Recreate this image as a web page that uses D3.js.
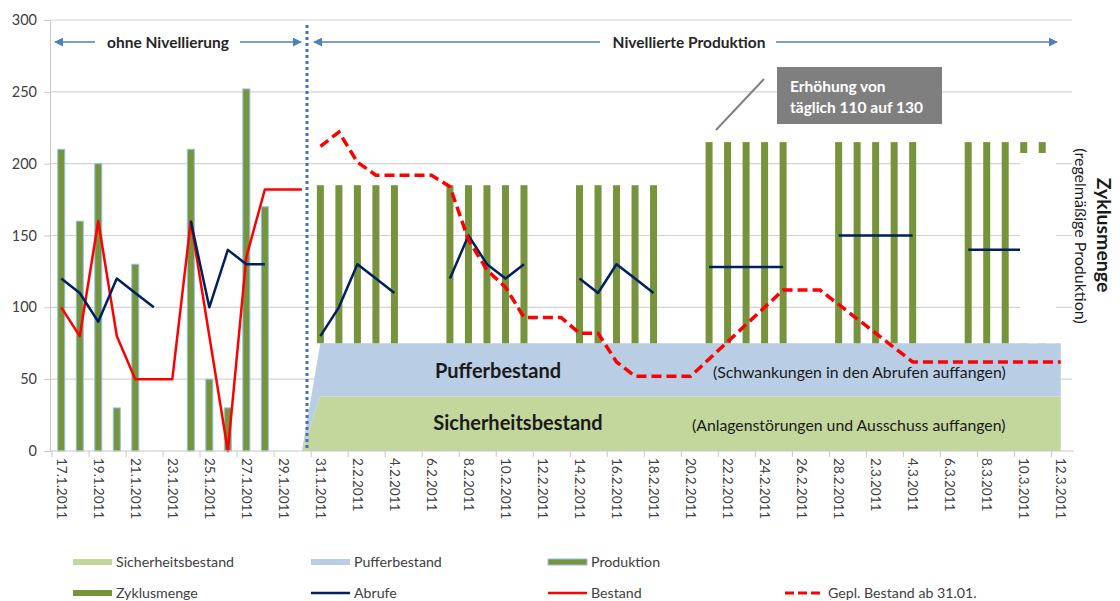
<!DOCTYPE html>
<html>
<head>
<meta charset="utf-8">
<script src="https://cdn.jsdelivr.net/npm/d3@7"></script>
<style>
  body { margin: 0; background: #fff; }
  svg { display: block; font-family: Lato, "Open Sans", sans-serif; }
</style>
</head>
<body>
<div id="chart"></div>
<script>
// Kategorien (Tage)
var dates = ["17.1.2011","18.1.2011","19.1.2011","20.1.2011","21.1.2011","22.1.2011","23.1.2011","24.1.2011",
  "25.1.2011","26.1.2011","27.1.2011","28.1.2011","29.1.2011","30.1.2011","31.1.2011",
  "1.2.2011","2.2.2011","3.2.2011","4.2.2011","5.2.2011","6.2.2011","7.2.2011","8.2.2011","9.2.2011",
  "10.2.2011","11.2.2011","12.2.2011","13.2.2011","14.2.2011","15.2.2011","16.2.2011","17.2.2011",
  "18.2.2011","19.2.2011","20.2.2011","21.2.2011","22.2.2011","23.2.2011","24.2.2011","25.2.2011",
  "26.2.2011","27.2.2011","28.2.2011",
  "1.3.2011","2.3.2011","3.3.2011","4.3.2011","5.3.2011","6.3.2011","7.3.2011","8.3.2011","9.3.2011",
  "10.3.2011","11.3.2011","12.3.2011"];

var yTicks = [0, 50, 100, 150, 200, 250, 300];

// Serien (null = kein Wert)
var produktion = [210,160,200,30,130,null,null,210,50,30,252,170,null,null];

var zyklusmenge = [null,null,null,null,null,null,null,null,null,null,null,null,null,null,
  185,185,185,185,185,null,null,185,185,185,185,185,null,null,185,185,185,185,185,null,null,
  215,215,215,215,215,null,null,215,215,215,215,215,null,null,215,215,215,215,215,null];

var abrufe = [120,110,90,120,110,100,null,160,100,140,130,130,null,null,
  80,100,130,120,110,null,null,120,150,130,120,130,null,null,120,110,130,120,110,null,null,
  128,128,128,128,128,null,null,150,150,150,150,150,null,null,140,140,140,140,140,null];

var bestand = [100,80,160,80,50,50,50,160,80,0,135,182,182,182];

var geplBestand = [null,null,null,null,null,null,null,null,null,null,null,null,null,null,
  212,222,201,192,192,192,192,184,147,126,114,93,93,93,82,82,62,52,52,52,52,
  64,76,88,100,112,112,112,102,92,82,72,62,62,62,62,62,62,62,62,62];

var sicherheitsbestand = [null,null,null,null,null,null,null,null,null,null,null,null,null,0,
  38,38,38,38,38,38,38,38,38,38,38,38,38,38,38,38,38,38,38,38,38,
  38,38,38,38,38,38,38,38,38,38,38,38,38,38,38,38,38,38,38,38];

var pufferbestand = [null,null,null,null,null,null,null,null,null,null,null,null,null,0,
  37,37,37,37,37,37,37,37,37,37,37,37,37,37,37,37,37,37,37,37,37,
  37,37,37,37,37,37,37,37,37,37,37,37,37,37,37,37,37,37,37,37];

var width = 1120, height = 601;

var svg = d3.select("#chart").append("svg")
  .attr("width", width)
  .attr("height", height);

var x = d3.scaleBand().domain(d3.range(dates.length)).range([52, 1070]).padding(0);
var y = d3.scaleLinear().domain([0, 300]).range([451, 20]);
var cx = function(i) { return x(i) + x.bandwidth() / 2; };
var barW = 7;

// Gitterlinien
svg.append("g").selectAll("line")
  .data(yTicks.slice(1))
  .enter().append("line")
  .attr("x1", 50).attr("x2", 1072)
  .attr("y1", function(d) { return y(d); })
  .attr("y2", function(d) { return y(d); })
  .attr("stroke", "#d4d4d4").attr("stroke-width", 1.2);

// Y-Achse
var yAxis = svg.append("g")
  .attr("transform", "translate(50,0)")
  .call(d3.axisLeft(y).tickValues(yTicks).tickSize(6).tickPadding(7));
yAxis.select(".domain").attr("stroke", "#c8c8c8");
yAxis.selectAll(".tick line").attr("stroke", "#c8c8c8");
yAxis.selectAll("text").attr("font-size", 14.5).attr("fill", "#404040")
  .attr("font-family", "Lato, 'Open Sans', sans-serif");

// Flächen (gestapelt)
var areaSich = d3.area()
  .defined(function(d, i) { return sicherheitsbestand[i] != null; })
  .x(function(d, i) { return cx(i); })
  .y0(y(0))
  .y1(function(d, i) { return y(sicherheitsbestand[i]); });
var areaPuf = d3.area()
  .defined(function(d, i) { return pufferbestand[i] != null; })
  .x(function(d, i) { return cx(i); })
  .y0(function(d, i) { return y(sicherheitsbestand[i]); })
  .y1(function(d, i) { return y(sicherheitsbestand[i] + pufferbestand[i]); });

svg.append("path").attr("d", areaPuf(dates)).attr("fill", "#b9cde5");
svg.append("path").attr("d", areaSich(dates)).attr("fill", "#c3d69b");

// Produktion (Balken mit hellblauem Rand)
svg.append("g").selectAll("rect")
  .data(produktion.map(function(v, i) { return {v: v, i: i}; }).filter(function(d) { return d.v != null; }))
  .enter().append("rect")
  .attr("x", function(d) { return cx(d.i) - barW / 2; })
  .attr("width", barW)
  .attr("y", function(d) { return y(d.v); })
  .attr("height", function(d) { return y(0) - y(d.v); })
  .attr("fill", "#77933c")
  .attr("stroke", "#8fc3e6").attr("stroke-width", 1);

// Zyklusmenge (Balken oberhalb des Puffers)
svg.append("g").selectAll("rect")
  .data(zyklusmenge.map(function(v, i) { return {v: v, i: i}; }).filter(function(d) { return d.v != null; }))
  .enter().append("rect")
  .attr("x", function(d) { return cx(d.i) - barW / 2; })
  .attr("width", barW)
  .attr("y", function(d) { return y(d.v); })
  .attr("height", function(d) { return y(sicherheitsbestand[d.i] + pufferbestand[d.i]) - y(d.v); })
  .attr("fill", "#77933c");

// Linien
function lineFor(arr) {
  return d3.line()
    .defined(function(d, i) { return arr[i] != null; })
    .x(function(d, i) { return cx(i); })
    .y(function(d, i) { return y(arr[i]); });
}

svg.append("path").attr("d", lineFor(bestand)(bestand))
  .attr("fill", "none").attr("stroke", "#ff0000").attr("stroke-width", 2.5)
  .attr("stroke-linejoin", "round");

svg.append("path").attr("d", lineFor(abrufe)(abrufe))
  .attr("fill", "none").attr("stroke", "#002060").attr("stroke-width", 2.5)
  .attr("stroke-linejoin", "round");

svg.append("path").attr("d", lineFor(geplBestand)(geplBestand))
  .attr("fill", "none").attr("stroke", "#ff0000").attr("stroke-width", 3.5)
  .attr("stroke-dasharray", "10,5");

// X-Achse
svg.append("line").attr("x1", 50).attr("x2", 1074).attr("y1", y(0)).attr("y2", y(0))
  .attr("stroke", "#c8c8c8").attr("stroke-width", 1.2);
var tickIdx = d3.range(0, dates.length, 2);
svg.append("g").selectAll("line")
  .data(tickIdx)
  .enter().append("line")
  .attr("x1", function(i) { return x(i); }).attr("x2", function(i) { return x(i); })
  .attr("y1", y(0)).attr("y2", y(0) + 6)
  .attr("stroke", "#c8c8c8");
svg.append("g").selectAll("text")
  .data(tickIdx)
  .enter().append("text")
  .attr("transform", function(i) { return "translate(" + cx(i) + "," + (y(0) + 7) + ") rotate(90)"; })
  .attr("dy", "0.35em")
  .attr("font-size", 13.5)
  .attr("fill", "#404040")
  .text(function(i) { return dates[i]; });

// Trennlinie (gepunktet)
svg.append("line").attr("x1", 307).attr("x2", 307).attr("y1", 25).attr("y2", y(0))
  .attr("stroke", "#3f72c0").attr("stroke-width", 3).attr("stroke-dasharray", "3,3");

// Pfeile oben
var defs = svg.append("defs");
defs.append("marker").attr("id", "arr")
  .attr("viewBox", "0 0 10 10").attr("refX", 9).attr("refY", 5)
  .attr("markerWidth", 9).attr("markerHeight", 9)
  .attr("markerUnits", "userSpaceOnUse")
  .attr("orient", "auto-start-reverse")
  .append("path").attr("d", "M0,0 L10,5 L0,10 z").attr("fill", "#4f81bd");

var arrows = [[55, 95, "start"], [240, 301, "end"], [314, 600, "start"], [776, 1057, "end"]];
arrows.forEach(function(a) {
  var l = svg.append("line").attr("x1", a[0]).attr("x2", a[1]).attr("y1", 42).attr("y2", 42)
    .attr("stroke", "#4f81bd").attr("stroke-width", 1.5);
  l.attr(a[2] === "start" ? "marker-start" : "marker-end", "url(#arr)");
});
svg.append("text").attr("x", 168).attr("y", 48).attr("text-anchor", "middle")
  .attr("font-size", 15.5).attr("font-weight", "bold").attr("fill", "#262626")
  .text("ohne Nivellierung");
svg.append("text").attr("x", 689).attr("y", 48).attr("text-anchor", "middle")
  .attr("font-size", 15.5).attr("font-weight", "bold").attr("fill", "#262626")
  .text("Nivellierte Produktion");

// Beschriftungen in den Flächen
svg.append("text").attr("x", 498).attr("y", 378).attr("text-anchor", "middle")
  .attr("font-size", 20).attr("font-weight", "bold").attr("fill", "#1a1a1a").text("Pufferbestand");
svg.append("text").attr("x", 518).attr("y", 430).attr("text-anchor", "middle")
  .attr("font-size", 20).attr("font-weight", "bold").attr("fill", "#1a1a1a").text("Sicherheitsbestand");
svg.append("text").attr("x", 713).attr("y", 378)
  .attr("font-size", 15.8).attr("fill", "#1a1a1a").text("(Schwankungen in den Abrufen auffangen)");
svg.append("text").attr("x", 692).attr("y", 431)
  .attr("font-size", 15.8).attr("fill", "#1a1a1a").text("(Anlagenstörungen und Ausschuss auffangen)");

// Anmerkung
svg.append("line").attr("x1", 764).attr("y1", 79).attr("x2", 716).attr("y2", 130)
  .attr("stroke", "#808080").attr("stroke-width", 2);
svg.append("rect").attr("x", 777).attr("y", 67).attr("width", 165).attr("height", 57)
  .attr("fill", "#7f7f7f");
svg.append("text").attr("x", 790).attr("y", 92).attr("font-size", 15.5).attr("font-weight", "bold")
  .attr("fill", "#fff").text("Erhöhung von");
svg.append("text").attr("x", 790).attr("y", 113).attr("font-size", 15.5).attr("font-weight", "bold")
  .attr("fill", "#fff").text("täglich 110 auf 130");

// Rechte Beschriftung mit weißem Hintergrund
svg.append("rect").attr("x", 1020).attr("y", 153).attr("width", 36).attr("height", y(75) - 153)
  .attr("fill", "#fff");
svg.append("text").attr("transform", "translate(1097,235) rotate(90)")
  .attr("text-anchor", "middle").attr("font-size", 19.5).attr("font-weight", "bold")
  .attr("fill", "#1a1a1a").text("Zyklusmenge");
svg.append("text").attr("transform", "translate(1075,236) rotate(90)")
  .attr("text-anchor", "middle").attr("font-size", 16)
  .attr("fill", "#1a1a1a").text("(regelmäßige Produktion)");

// Legende
var legend = [
  {name: "Sicherheitsbestand", type: "rect", fill: "#c3d69b", x: 73, y: 562},
  {name: "Pufferbestand", type: "rect", fill: "#b9cde5", x: 311, y: 562},
  {name: "Produktion", type: "rect", fill: "#77933c", stroke: "#8fc3e6", x: 548, y: 562},
  {name: "Zyklusmenge", type: "rect", fill: "#77933c", x: 73, y: 593},
  {name: "Abrufe", type: "line", color: "#002060", x: 311, y: 593},
  {name: "Bestand", type: "line", color: "#ff0000", x: 548, y: 593},
  {name: "Gepl. Bestand ab 31.01.", type: "dash", color: "#ff0000", x: 785, y: 593}
];
var lg = svg.append("g").selectAll("g").data(legend).enter().append("g")
  .attr("transform", function(d) { return "translate(" + d.x + "," + d.y + ")"; });
lg.each(function(d) {
  var g = d3.select(this);
  if (d.type === "rect") {
    g.append("rect").attr("x", 0).attr("y", -3).attr("width", 39).attr("height", 6)
      .attr("fill", d.fill).attr("stroke", d.stroke || "none").attr("stroke-width", 1);
  } else {
    g.append("line").attr("x1", 0).attr("x2", 39).attr("y1", 0).attr("y2", 0)
      .attr("stroke", d.color).attr("stroke-width", d.type === "dash" ? 3 : 2.5)
      .attr("stroke-dasharray", d.type === "dash" ? "9,4" : null);
  }
  g.append("text").attr("x", 43).attr("y", 0).attr("dy", "0.35em")
    .attr("font-size", 14.2).attr("fill", "#404040").text(d.name);
});
</script>
</body>
</html>
